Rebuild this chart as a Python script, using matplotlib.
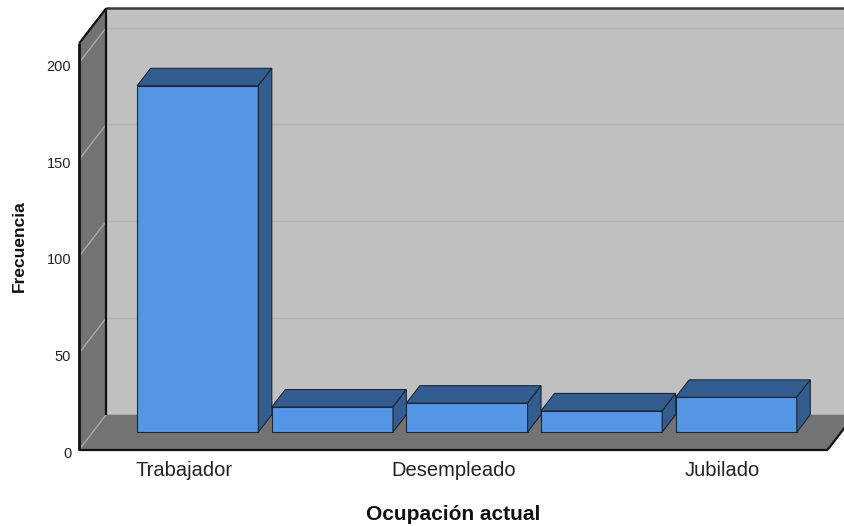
import matplotlib.pyplot as plt
from matplotlib.patches import Polygon

categorias = ['Trabajador', '', 'Desempleado', '', 'Jubilado']
frecuencias = [179, 13, 15, 11, 18]
ticks_y = [0, 50, 100, 150, 200]

plt.rcParams['font.family'] = ['Liberation Sans', 'DejaVu Sans']

fig = plt.figure(figsize=(8.45, 5.26), dpi=100)
ax = fig.add_axes([0, 0, 1, 1])
ax.set_xlim(-1.369, 4.908)
ax.set_ylim(-39.5, 232.3)
ax.axis('off')

# caja 3D: profundidad y limites
dx, dy = 0.2, 18.0
x0, x1 = -0.78, 4.78
techo = 210
ancho = 0.9
gris_pared = '#737373'


def cara(pts, color, z, ec='none', lw=0):
    ax.add_patch(Polygon(pts, closed=True, fc=color, ec=ec, lw=lw, zorder=z,
                         joinstyle='miter'))


def linea(xs, ys, color='#111111', lw=1.6, z=3):
    ax.plot(xs, ys, color=color, lw=lw, zorder=z, solid_capstyle='butt')


# pared del fondo, pared izquierda y suelo
cara([(x0 + dx, dy), (x1 + dx, dy), (x1 + dx, techo + dy), (x0 + dx, techo + dy)], '#c0c0c0', 1)
cara([(x0, 0), (x0 + dx, dy), (x0 + dx, techo + dy), (x0, techo)], gris_pared, 1)
cara([(x0, 0), (x1, 0), (x1 + dx, dy), (x0 + dx, dy)], gris_pared, 2)

# lineas de cuadricula
for v in ticks_y[1:]:
    linea([x0 + dx, x1 + dx], [v + dy, v + dy], color='#b3b3b3', lw=1, z=1.5)
for v in ticks_y:
    linea([x0, x0 + dx], [v, v + dy], color='#a8a8a8', lw=1, z=2.5)

# bordes de la caja
linea([x0, x0], [0, techo], lw=2)
linea([x0, x0 + dx], [techo, techo + dy], lw=1.6)
linea([x0 + dx, x1 + dx], [techo + dy, techo + dy], color='#3a3a3a', lw=1.8)
linea([x0 + dx, x0 + dx], [dy, techo + dy], lw=1.6)
linea([x0, x1], [0, 0], lw=1.6)
linea([x1, x1 + dx], [0, dy], lw=1.6)

# barras
borde = '#1c2636'
for i, v in enumerate(frecuencias):
    xl = i - ancho / 2 + dx / 2
    xr = xl + ancho
    b = dy / 2
    cara([(xl, b), (xr, b), (xr, v + b), (xl, v + b)], '#5595e5', 4, borde, 0.8)
    cara([(xl, v + b), (xr, v + b), (xr + dx / 2, v + dy), (xl + dx / 2, v + dy)],
         '#335d8f', 4, borde, 0.8)
    cara([(xr, b), (xr + dx / 2, dy), (xr + dx / 2, v + dy), (xr, v + b)],
         '#335d8f', 4, borde, 0.8)

# etiquetas de los ejes
for v in ticks_y:
    ax.text(x0 - 0.06, v - 2.3, str(v), ha='right', va='center',
            fontsize=10.5, color='#222222')
for i, c in enumerate(categorias):
    ax.text(i, -10.6, c, ha='center', va='center', fontsize=14.5, color='#222222')

ax.text(2.0, -33.3, 'Ocupación actual', ha='center', va='center',
        fontsize=15, fontweight='bold', color='#111111')
ax.text(-1.225, 105.2, 'Frecuencia', ha='center', va='center', rotation=90,
        fontsize=12.5, fontweight='bold', color='#111111')

fig.savefig('out.png', dpi=100)
